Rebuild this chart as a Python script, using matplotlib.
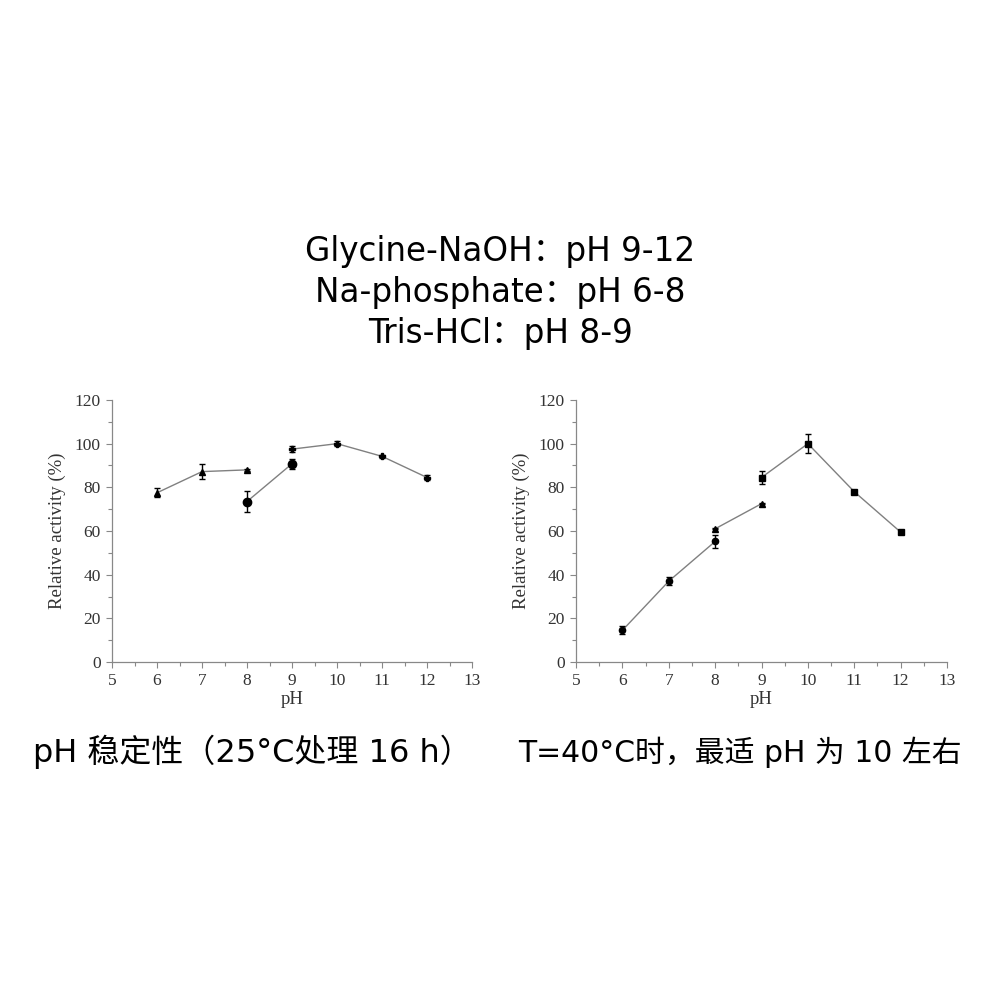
import numpy as np
import matplotlib
matplotlib.use('Agg')
from matplotlib import pyplot as plt
from matplotlib.ticker import MultipleLocator

# 数据 (pH 稳定性)
ph_na = [6, 7, 8]
act_na = [77.5, 87.2, 88.0]
err_na = [2.0, 3.3, 0.5]
ph_tris = [8, 9]
act_tris = [73.5, 90.8]
err_tris = [5.0, 2.2]
ph_gly = [9, 10, 11, 12]
act_gly = [97.5, 100.0, 94.2, 84.5]
err_gly = [1.5, 1.0, 0.7, 1.0]

# 数据 (最适 pH)
ph_na2 = [6, 7, 8]
act_na2 = [14.5, 37.0, 55.2]
err_na2 = [1.8, 1.8, 2.8]
ph_tris2 = [8, 9]
act_tris2 = [61.0, 72.5]
err_tris2 = [0.3, 0.3]
ph_gly2 = [9, 10, 11, 12]
act_gly2 = [84.5, 100.0, 78.0, 59.5]
err_gly2 = [3.0, 4.5, 0.5, 0.5]

header = ['Glycine-NaOH：pH 9-12', 'Na-phosphate：pH 6-8', 'Tris-HCl：pH 8-9']
cap_left = 'pH 稳定性（25°C处理 16 h）'
cap_right = 'T=40°C时，最适 pH 为 10 左右'

wide = ['DejaVu Sans', 'Noto Sans CJK SC']
serif = ['Liberation Serif', 'DejaVu Serif']

fig = plt.figure(figsize=(10, 10), dpi=100)


def style_ax(ax):
    ax.set_xlim(5, 13)
    ax.set_ylim(0, 120)
    ax.xaxis.set_major_locator(MultipleLocator(1))
    ax.xaxis.set_minor_locator(MultipleLocator(0.5))
    ax.yaxis.set_major_locator(MultipleLocator(20))
    ax.yaxis.set_minor_locator(MultipleLocator(10))
    for s in ['top', 'right']:
        ax.spines[s].set_visible(False)
    for s in ['left', 'bottom']:
        ax.spines[s].set_color('#888888')
        ax.spines[s].set_linewidth(0.9)
    ax.tick_params(which='both', direction='out', color='#888888', width=0.8,
                   labelsize=12.5, labelcolor='#333333')
    ax.tick_params(which='major', length=4, pad=4)
    ax.tick_params(which='minor', length=3)
    for lab in ax.get_xticklabels() + ax.get_yticklabels():
        lab.set_family(serif)
    ax.set_xlabel('pH', family=serif, fontsize=13.5, color='#333333', labelpad=1)
    ax.set_ylabel('Relative activity (%)', family=serif, fontsize=13.5, color='#333333', labelpad=6)


def series(ax, x, y, e, marker, ms):
    ax.plot(x, y, '-', color='#808080', lw=1.0, zorder=1)
    ax.errorbar(x, y, yerr=e, fmt=marker, color='black', ms=ms, ecolor='black',
                elinewidth=1.0, capsize=2.2, capthick=1.0, zorder=2)


ax1 = fig.add_axes([0.112, 0.338, 0.360, 0.262])
series(ax1, ph_na, act_na, err_na, '^', 5)
series(ax1, ph_tris, act_tris, err_tris, 'o', 6)
series(ax1, ph_gly, act_gly, err_gly, 'P', 5)
style_ax(ax1)

ax2 = fig.add_axes([0.576, 0.338, 0.371, 0.262])
series(ax2, ph_na2, act_na2, err_na2, 'o', 4.5)
series(ax2, ph_tris2, act_tris2, err_tris2, '^', 4)
series(ax2, ph_gly2, act_gly2, err_gly2, 's', 4.5)
style_ax(ax2)

for i, t in enumerate(header):
    fig.text(0.5, 1 - (0.252 + i * 0.0405), t, ha='center', va='center',
             fontsize=23.5, family=wide, color='black')

fig.text(0.252, 1 - 0.752, cap_left, ha='center', va='center', fontsize=23, family=wide)
fig.text(0.74, 1 - 0.752, cap_right, ha='center', va='center', fontsize=21.5, family=wide)

fig.savefig('out.png', dpi=100, facecolor='white')
